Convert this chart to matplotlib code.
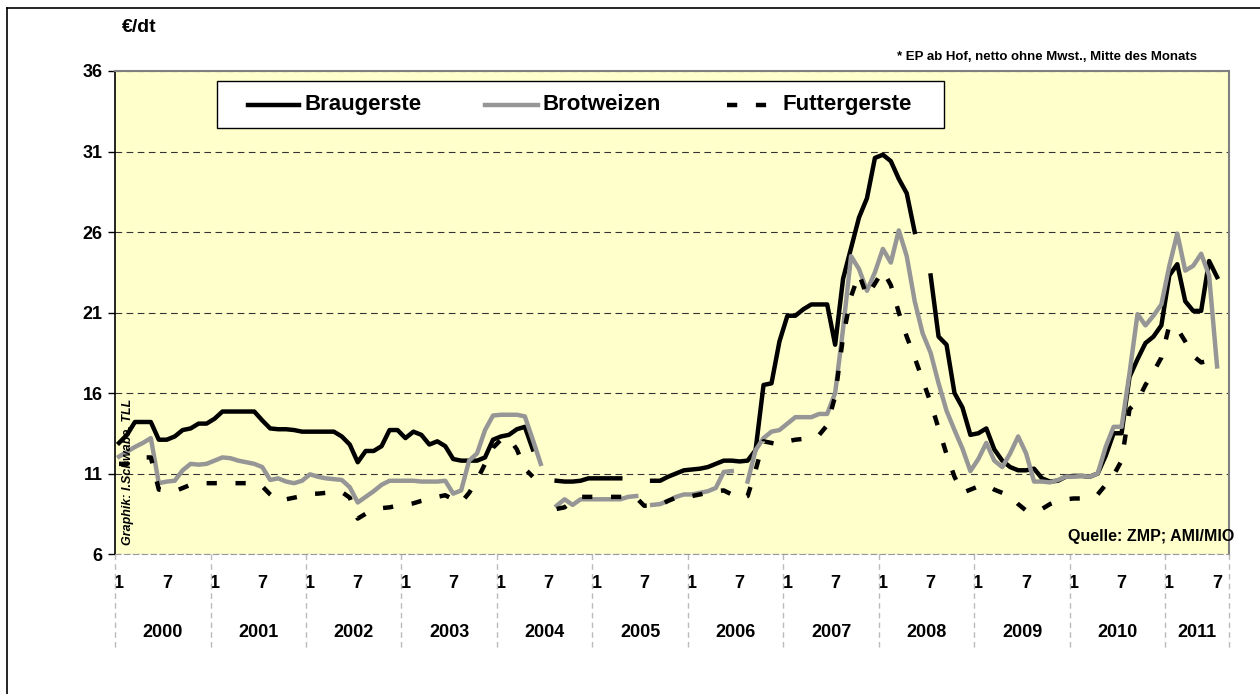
import numpy as np
import matplotlib.pyplot as plt
from matplotlib.lines import Line2D
from matplotlib.patches import Rectangle

nan = np.nan

# monthly prices in EUR/dt, Jan 2000 .. Aug 2011 (nan = no quotation)
braugerste = [
    12.9, 13.4, 14.2, 14.2, 14.2, 13.1, 13.1, 13.3, 13.7, 13.8, 14.1, 14.1,
    14.4, 14.85, 14.85, 14.85, 14.85, 14.85, 14.3, 13.8, 13.75, 13.75, 13.7, 13.6,
    13.6, 13.6, 13.6, 13.6, 13.3, 12.8, 11.7, 12.4, 12.4, 12.7, 13.7, 13.7,
    13.2, 13.6, 13.4, 12.8, 13.0, 12.7, 11.9, 11.8, 11.8, 11.8, 12.0, 13.1,
    13.3, 13.4, 13.75, 13.9, 12.5, nan, nan, 10.55, 10.5, 10.5, 10.55, 10.7,
    10.7, 10.7, 10.7, 10.7, nan, nan, nan, 10.55, 10.55, 10.8, 11.0, 11.2,
    11.25, 11.3, 11.4, 11.6, 11.8, 11.8, 11.75, 11.8, 12.45, 16.5, 16.6, 19.2,
    20.8, 20.8, 21.2, 21.5, 21.5, 21.5, 19.0, 23.1, 25.0, 26.9, 28.1, 30.6,
    30.8, 30.4, 29.3, 28.4, 26.0, nan, 23.3, 19.5, 19.0, 16.0, 15.1, 13.4,
    13.5, 13.8, 12.5, 11.8, 11.4, 11.2, 11.2, 11.3, 10.7, 10.5, 10.55, 10.8,
    10.85, 10.85, 10.8, 11.0, 12.1, 13.5, 13.5, 17.0, 18.1, 19.1, 19.5, 20.2,
    23.3, 24.0, 21.7, 21.1, 21.1, 24.2, 23.2, nan,
]
brotweizen = [
    12.05, 12.35, 12.65, 12.9, 13.2, 10.4, 10.5, 10.55, 11.2, 11.6, 11.55, 11.6,
    11.8, 12.0, 11.95, 11.8, 11.7, 11.6, 11.4, 10.6, 10.7, 10.5, 10.4, 10.55,
    10.95, 10.8, 10.7, 10.65, 10.6, 10.15, 9.2, 9.55, 9.9, 10.3, 10.55, 10.55,
    10.55, 10.55, 10.5, 10.5, 10.5, 10.55, 9.75, 9.95, 11.8, 12.25, 13.7, 14.6,
    14.65, 14.65, 14.65, 14.55, 13.1, 11.6, nan, 9.0, 9.4, 9.05, 9.4, 9.4,
    9.4, 9.4, 9.4, 9.4, 9.55, 9.6, nan, 9.05, 9.1, 9.3, 9.55, 9.7,
    9.7, 9.8, 9.9, 10.1, 11.1, 11.15, nan, 10.5, 12.45, 13.2, 13.6, 13.7,
    14.1, 14.5, 14.5, 14.5, 14.7, 14.7, 16.0, 20.0, 24.5, 23.7, 22.35, 23.5,
    24.95, 24.1, 26.1, 24.5, 21.7, 19.7, 18.5, 16.6, 14.9, 13.7, 12.55, 11.15,
    11.9, 12.9, 11.8, 11.4, 12.25, 13.3, 12.25, 10.5, 10.5, 10.45, 10.6, 10.8,
    10.8, 10.85, 10.8, 11.0, 12.65, 13.9, 13.9, 17.25, 20.9, 20.2, 20.8, 21.5,
    23.9, 25.9, 23.6, 23.9, 24.65, 23.3, 17.65, nan,
]
futtergerste = [
    11.6, 11.6, 11.8, 12.0, 12.0, 10.0, 9.95, 9.9, 10.1, 10.3, 10.4, 10.4,
    10.4, 10.4, 10.4, 10.4, 10.4, 10.4, 10.2, 9.7, 9.3, 9.4, 9.5, 9.6,
    9.75, 9.75, 9.8, 9.8, 9.85, 9.5, 8.2, 8.5, 8.7, 8.85, 8.9, 9.0,
    9.05, 9.15, 9.3, 9.4, 9.55, 9.65, 9.4, 9.2, 9.8, 10.6, 11.6, 12.6,
    13.1, 13.2, 12.5, 11.3, 10.8, nan, nan, 8.8, 8.9, 9.3, 9.55, 9.55,
    9.55, 9.55, 9.55, 9.55, 9.55, 9.5, 9.0, 9.0, 9.05, 9.3, 9.5, 9.6,
    9.6, 9.7, 9.8, 9.9, 9.95, 9.7, 9.4, 9.6, 11.2, 13.0, 12.9, 12.8,
    13.0, 13.1, 13.15, 13.2, 13.4, 14.0, 15.8, 19.5, 22.0, 23.4, 22.0, 22.8,
    23.6, 22.7, 21.0, 19.5, 18.2, 16.8, 15.4, 13.8, 12.2, 10.8, 9.8, 10.0,
    10.2, 10.3, 10.0, 9.8, 9.6, 9.1, 8.7, 8.6, 8.8, 9.1, 9.3, 9.4,
    9.45, 9.45, 9.5, 9.7, 10.3, 10.9, 11.8, 15.0, 15.5, 16.5, 17.3, 18.2,
    20.2, 20.0, 19.2, 18.3, 17.9, 18.0, 17.8, nan,
]
years = [str(y) for y in range(2000, 2012)]
month_labels = {1: '1', 7: '7'}
series_names = ['Braugerste', 'Brotweizen', 'Futtergerste']

plt.rcParams['font.family'] = ['Liberation Sans', 'DejaVu Sans']
plt.rcParams['font.weight'] = 'bold'

n = len(braugerste)
x = np.arange(n)
months = [(i % 12) + 1 for i in range(n)]

styles = [
    dict(color='black', lw=3.2, solid_joinstyle='round'),
    dict(color='#969696', lw=3.2, solid_joinstyle='round'),
    dict(color='black', lw=3.2, ls=(0, (2.3, 4.2))),
]

fig = plt.figure(figsize=(12.6, 6.94), dpi=100)
# chart area frame (only top and left edges are visible in the picture)
fig.add_artist(Line2D([7 / 1260, 7 / 1260], [0, 1 - 8 / 694], color='black', lw=1.2))
fig.add_artist(Line2D([7 / 1260, 1], [1 - 8 / 694, 1 - 8 / 694], color='black', lw=1.2))

ax = fig.add_axes([0.0913, 0.2017, 0.8841, 0.696])
ax.set_facecolor('#FFFFCC')

for vals, name, st in zip([braugerste, brotweizen, futtergerste], series_names, styles):
    ax.plot(x, vals, label=name, **st)

ax.set_xlim(-0.5, n - 0.5)
ax.set_ylim(6, 36)
ax.set_yticks(range(6, 37, 5))
ax.tick_params(axis='y', length=5, width=1, labelsize=13, pad=4)
for t in ax.get_yticklabels():
    t.set_fontweight('bold')
ax.grid(axis='y', color='#333333', ls=(0, (6, 4)), lw=0.8)

# month labels on the category axis
tick_pos = [i for i in range(n) if months[i] in month_labels]
ax.set_xticks(tick_pos)
ax.set_xticklabels([month_labels[months[i]] for i in tick_pos], fontsize=13, fontweight='bold')
ax.tick_params(axis='x', length=0, pad=15)

# year labels and group separators
trans = ax.get_xaxis_transform()
for k, yr in enumerate(years):
    start = 12 * k - 0.5
    end = min(12 * k + 11.5, n - 0.5)
    ax.text((start + end) / 2, -0.163, yr, transform=trans, ha='center', va='center',
            fontsize=13, fontweight='bold')
for b in list(range(0, n, 12)) + [n]:
    ax.plot([b - 0.5, b - 0.5], [0, -0.195], transform=trans, clip_on=False,
            color='#BBBBBB', lw=1, ls=(0, (4, 3)))

for side in ('top', 'right'):
    ax.spines[side].set_color('#808080')
    ax.spines[side].set_linewidth(1.5)
ax.spines['left'].set_color('black')
ax.spines['left'].set_linewidth(1.2)
ax.spines['bottom'].set_color('#999999')
ax.spines['bottom'].set_linestyle((0, (5, 3)))

# legend box, placed like the original
def ax_x(px):
    return (px - 115) / 1114

def ax_y(py):
    return (554 - py) / 483

ax.add_patch(Rectangle((ax_x(217), ax_y(128)), ax_x(944) - ax_x(217), ax_y(81) - ax_y(128),
                       transform=ax.transAxes, facecolor='white', edgecolor='black',
                       lw=1, zorder=5))
leg_y = ax_y(105)
handle_spans = [(248, 299, 304), (485, 538, 542), (727, 771, 782)]
for (x0, x1, tx), name, st in zip(handle_spans, series_names, styles):
    ax.add_line(Line2D([ax_x(x0), ax_x(x1)], [leg_y, leg_y], transform=ax.transAxes,
                       zorder=6, **st))
    ax.text(ax_x(tx), leg_y, name, transform=ax.transAxes, ha='left', va='center',
            fontsize=16, fontweight='bold', zorder=6)

fig.text(122 / 1260, 1 - 28 / 694, '€/dt', ha='left', va='center', fontsize=14, fontweight='bold')
fig.text(1197 / 1260, 1 - 57 / 694, '* EP ab Hof, netto ohne Mwst., Mitte des Monats',
         ha='right', va='center', fontsize=9.5, fontweight='bold')
fig.text(1234 / 1260, 1 - 537 / 694, 'Quelle: ZMP; AMI/MIO', ha='right', va='center',
         fontsize=11.5, fontweight='bold')
fig.text(128 / 1260, 1 - 472 / 694, 'Graphik: I.Schwabe, TLL', ha='center', va='center',
         rotation=90, fontsize=9, fontweight='bold', style='italic')

fig.savefig('out.png', dpi=100)
